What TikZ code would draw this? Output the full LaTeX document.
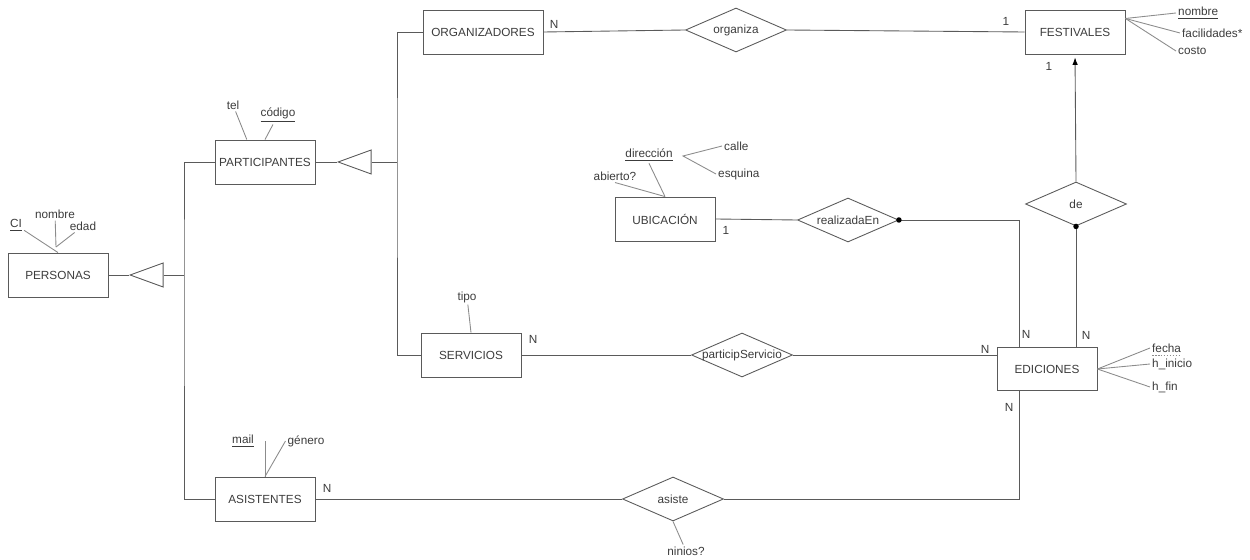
\documentclass[tikz,border=0pt]{standalone}
\usepackage{fontspec}
\setmainfont{Liberation Sans}
\usetikzlibrary{shapes.geometric, arrows.meta}
\definecolor{linegray}{HTML}{5A5A5A}
\definecolor{attgray}{HTML}{8C8C8C}
\definecolor{textgray}{HTML}{3C3C3C}
\tikzstyle{entity} = [rectangle, minimum width=2cm, minimum height=0.88cm, text centered, inner sep=0, draw=linegray, text=textgray]
\tikzstyle{relation} = [diamond, aspect=2.3, minimum width=2.02cm, minimum height=0.88cm, inner sep=0, draw=linegray, text=textgray]
\tikzstyle{isa} = [isosceles triangle, shape border rotate=180, isosceles triangle stretches, minimum width=0.48cm, minimum height=0.66cm, inner sep=0, draw=linegray]
\tikzstyle{attrib} = [inner sep=1pt, text=textgray]
\tikzstyle{card} = [inner sep=1pt, text=textgray]
\tikzstyle{link} = [draw=linegray]
\tikzstyle{attlink} = [draw=attgray]
\tikzstyle{arrow} = [link, -{Latex[length=1.5mm, width=1.1mm, color=black, fill=black]}, shorten >=0.06cm]

\begin{document}
\begin{tikzpicture}[x=0.02cm, y=-0.02cm, line width=0.5pt, font=\fontsize{6.7}{8}\selectfont]
\useasboundingbox (0,0) rectangle (1250,560);

% entidades
\node (personas) [entity] at (58,275) {PERSONAS};
\node (participantes) [entity] at (265,162) {PARTICIPANTES};
\node (organizadores) [entity, minimum width=2.4cm] at (483,32) {ORGANIZADORES};
\node (servicios) [entity] at (471,355) {SERVICIOS};
\node (asistentes) [entity] at (265,499) {ASISTENTES};
\node (ubicacion) [entity] at (665,219) {UBICACIÓN};
\node (festivales) [entity] at (1075,32) {FESTIVALES};
\node (ediciones) [entity, minimum height=0.86cm] at (1047,369) {EDICIONES};

% relaciones
\node (organiza) [relation] at (736,30) {organiza};
\node (realizadaEn) [relation] at (848,220) {realizadaEn};
\node (de) [relation] at (1076,204) {de};
\node (participServicio) [relation] at (742,355) {\makebox[0pt]{participServicio}};
\node (asiste) [relation] at (673,499) {asiste};

% jerarquias
\node (isa1) [isa, anchor=apex] at (129,275) {};
\node (isa2) [isa, anchor=apex] at (337,162) {};
\coordinate (bus1) at (184,275);
\coordinate (bus2) at (397,162);

% atributos
\node (ci) [attrib] at (16,225) {\underline{CI}};
\node (nombreP) [attrib] at (55,214) {nombre};
\node (edad) [attrib] at (83,226) {edad};
\coordinate (nomedad) at (56,247);
\node (tel) [attrib] at (233,105) {tel};
\node (codigo) [attrib] at (278,115) {\underline{código}};
\node (direccion) [attrib] at (649,155) {\underline{dirección}};
\node (abierto) [attrib] at (615,176) {abierto?};
\coordinate (dirpt) at (683,156);
\node (calle) [attrib, anchor=west] at (722,146) {calle};
\node (esquina) [attrib, anchor=west] at (716,174) {esquina};
\node (tipo) [attrib] at (467,297) {tipo};
\node (mail) [attrib] at (243,441) {\underline{mail}};
\node (genero) [attrib] at (306,441) {género};
\node (ninios) [attrib] at (686,551) {ninios?};
\node (nombreF) [attrib, anchor=west] at (1176,13) {\underline{nombre}};
\node (facilidades) [attrib, anchor=west] at (1180,33) {facilidades*};
\node (costo) [attrib, anchor=west] at (1176,51) {costo};
\node (fecha) [attrib, anchor=west] at (1150,348) {fecha};
\node (hinicio) [attrib, anchor=west] at (1150,364) {h\_inicio};
\node (hfin) [attrib, anchor=west] at (1150,387) {h\_fin};
\draw [attgray, dashed, dash pattern=on 1pt off 0.7pt] ([xshift=1pt, yshift=-0.3pt]fecha.south west) -- ([xshift=-1pt, yshift=-0.3pt]fecha.south east);

% cardinalidades
\node (cOrgN) [card] at (554,24) {N};
\node (cFest1) [card] at (1006,21) {1};
\node (cDe1) [card] at (1049,66) {1};
\node (cUbic1) [card] at (726,230) {1};
\node (cServN) [card] at (533,339) {N};
\node (cRealN) [card] at (1026,334) {N};
\node (cDeN) [card] at (1086,335) {N};
\node (cPartN) [card] at (985,349) {N};
\node (cAsisN) [card] at (1009,407) {N};
\node (cAsistN) [card] at (327,488) {N};

% conexiones
\draw [link] (personas.east) -- (isa1.apex);
\draw [link] (isa1.east) -- (bus1);
\draw [link] (participantes.west) -| (bus1) |- (asistentes.west);
\draw [link] (participantes.east) -- (isa2.apex);
\draw [link] (isa2.east) -- (bus2);
\draw [link] (organizadores.west) -| (bus2) |- (servicios.west);

\draw [link] (organizadores.east) -- (organiza.west);
\draw [link] (organiza.east) -- (festivales.west);
\draw [link] (ubicacion.east) -- (realizadaEn.west);
\draw [link] (realizadaEn.east) -| ([xshift=0.46cm]ediciones.north west);
\fill (realizadaEn.east) circle (0.055cm);
\draw [arrow] (de.north) -- (festivales.south);
\draw [link] (de.south) -- (de.south |- ediciones.north);
\fill (de.south) circle (0.055cm);
\draw [link] (servicios.east) -- (participServicio.west);
\draw [link] (participServicio.east) -- (participServicio.east -| ediciones.west);
\draw [link] (asistentes.east) -- (asiste.west);
\draw [link] (asiste.east) -| ([xshift=0.46cm]ediciones.south west);

\draw [attlink] (ci) -- (personas.north);
\draw [attlink] (nombreP) -- (nomedad);
\draw [attlink] (edad) -- (nomedad);
\draw [attlink] (tel) -- (participantes.129);
\draw [attlink] (codigo) -- (participantes.north);
\draw [attlink] (direccion.south) -- (ubicacion.north);
\draw [attlink] (abierto.south) -- (ubicacion.north);
\draw [attlink] (calle.west) -- (dirpt) -- (esquina.west);
\draw [attlink] (tipo) -- (servicios.north);
\draw [attlink] (mail -| asistentes.north) -- (asistentes.north);
\draw [attlink] (genero.west) -- (asistentes.north);
\draw [attlink] (asiste.south) -- (ninios);
\draw [attlink] (festivales.15) -- (nombreF.west);
\draw [attlink] (festivales.15) -- (facilidades.west);
\draw [attlink] (festivales.15) -- (costo.west);
\draw [attlink] (ediciones.east) -- (fecha.west);
\draw [attlink] (ediciones.east) -- (hinicio.west);
\draw [attlink] (ediciones.east) -- (hfin.west);
\end{tikzpicture}
\end{document}
